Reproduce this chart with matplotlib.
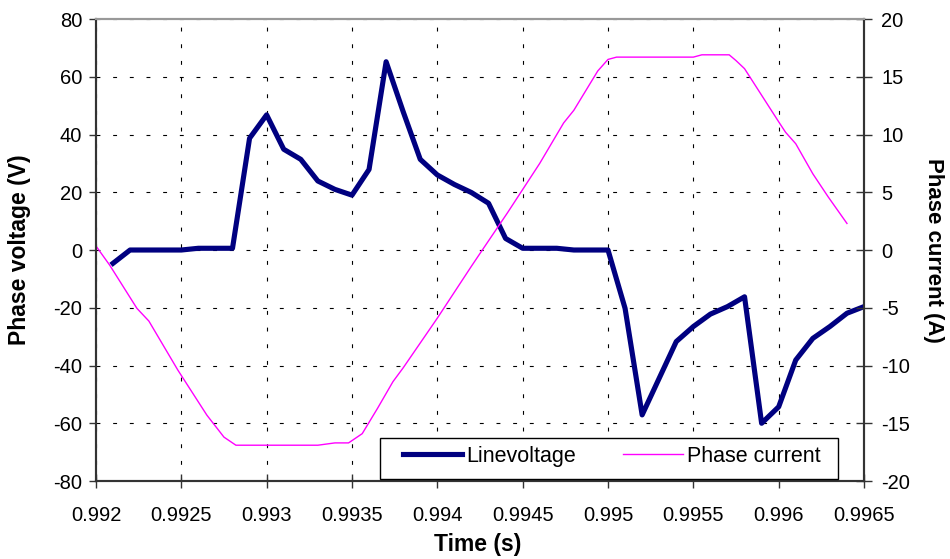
import matplotlib.pyplot as plt
from matplotlib.patches import Rectangle

plt.rcParams['font.family'] = ['Liberation Sans', 'DejaVu Sans']
plt.rcParams['axes.unicode_minus'] = False

# Line voltage, one sample every 0.1 ms
volt_t = [0.9921, 0.9922, 0.9923, 0.9924, 0.9925, 0.9926, 0.9927, 0.9928, 0.9929,
          0.9930, 0.9931, 0.9932, 0.9933, 0.9934, 0.9935, 0.9936, 0.9937, 0.9938,
          0.9939, 0.9940, 0.9941, 0.9942, 0.9943, 0.9944, 0.9945, 0.9946, 0.9947,
          0.9948, 0.9949, 0.9950, 0.9951, 0.9952, 0.9953, 0.9954, 0.9955, 0.9956,
          0.9957, 0.9958, 0.9959, 0.9960, 0.9961, 0.9962, 0.9963, 0.9964, 0.9965]
volt_v = [-4.6, 0.0, 0.0, 0.0, 0.0, 0.6, 0.6, 0.6, 38.7,
          46.8, 34.9, 31.4, 23.9, 21.0, 19.0, 27.9, 65.2, 47.9,
          31.4, 26.0, 22.7, 19.9, 16.2, 4.0, 0.6, 0.6, 0.6,
          0.0, 0.0, 0.0, -20.2, -57.1, -44.4, -31.7, -26.5, -22.2,
          -19.6, -16.2, -60.0, -54.3, -38.1, -30.6, -26.5, -21.9, -19.6]

# Phase current
curr_t = [0.99200, 0.99208, 0.99224, 0.99231, 0.99248, 0.99265, 0.99275, 0.99282,
          0.99330, 0.99340, 0.99348, 0.99356, 0.99365, 0.99374, 0.99380, 0.99400,
          0.99420, 0.99425, 0.99441, 0.99460, 0.99474, 0.99480, 0.99494, 0.99500,
          0.99505, 0.99550, 0.99555, 0.99571, 0.99575, 0.99580, 0.99590, 0.99600,
          0.99604, 0.99610, 0.99620, 0.99629, 0.99640]
curr_i = [0.35, -1.3, -5.05, -6.15, -10.4, -14.3, -16.2, -16.9,
          -16.9, -16.7, -16.7, -15.9, -13.7, -11.4, -10.2, -5.9,
          -1.4, -0.3, 3.2, 7.5, 11.0, 12.1, 15.5, 16.5,
          16.7, 16.7, 16.9, 16.9, 16.4, 15.7, 13.4, 11.1,
          10.2, 9.2, 6.6, 4.6, 2.3]

x_ticks = [0.992, 0.9925, 0.993, 0.9935, 0.994, 0.9945, 0.995, 0.9955, 0.996, 0.9965]
x_ticklabels = ['0.992', '0.9925', '0.993', '0.9935', '0.994', '0.9945',
                '0.995', '0.9955', '0.996', '0.9965']

fig = plt.figure(figsize=(9.5, 5.59), dpi=100)
ax = fig.add_axes([0.101, 0.1395, 0.8085, 0.8265])
ax2 = ax.twinx()

l1, = ax.plot(volt_t, volt_v, color='#000080', linewidth=3.7, label='Linevoltage', zorder=3)
l2, = ax2.plot(curr_t, curr_i, color='#FF00FF', linewidth=1.0, label='Phase current')

ax.set_xlim(0.992, 0.9965)
ax.set_ylim(-80, 80)
ax2.set_ylim(-20, 20)
ax.set_xticks(x_ticks)
ax.set_xticklabels(x_ticklabels)
ax.set_yticks(range(-80, 81, 20))
ax2.set_yticks(range(-20, 21, 5))

ax.grid(True, color='black', linestyle=(0, (3.5, 11.5)), linewidth=0.8)

ax.set_xlabel('Time (s)', fontsize=16.5, fontweight='bold')
ax.xaxis.set_label_coords(0.497, -0.112)
ax.set_ylabel('Phase voltage (V)', fontsize=16.5, fontweight='bold')
ax.yaxis.set_label_coords(-0.084, 0.5)
ax2.set_ylabel('Phase current (A)', fontsize=16, fontweight='bold', rotation=270, va='bottom')
ax2.yaxis.set_label_coords(1.077, 0.5)

for a in (ax, ax2):
    a.tick_params(labelsize=14.5, color='#333333', width=1)
    for side in ('left', 'right', 'bottom'):
        a.spines[side].set_color('#333333')
        a.spines[side].set_linewidth(1.5)
    a.spines['top'].set_color('#999999')
    a.spines['top'].set_linewidth(1.5)
ax.tick_params(axis='y', direction='out', length=5, pad=5)
ax.tick_params(axis='x', direction='inout', length=10, pad=13)
ax2.tick_params(axis='y', direction='inout', length=11, pad=7)

# legend box
ax2.add_patch(Rectangle((0.3698, 0.0043), 0.5964, 0.0887, transform=ax2.transAxes,
                        facecolor='white', edgecolor='black', linewidth=1.0, zorder=5))
leg = ax2.legend([l1, l2], ['Linevoltage', 'Phase current'], ncol=2,
                 loc='center left', bbox_to_anchor=(0.3997, 0.053), fontsize=15.5,
                 frameon=False, borderaxespad=0, borderpad=0,
                 handlelength=2.75, handletextpad=0.19, columnspacing=2.2)
leg.set_zorder(6)

fig.savefig('out.png', dpi=100)
